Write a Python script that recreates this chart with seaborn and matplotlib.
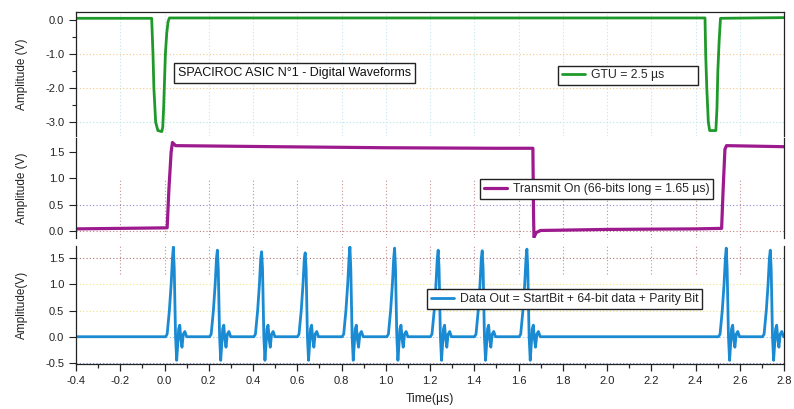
import matplotlib
matplotlib.use("Agg")
import matplotlib.pyplot as plt
import pandas as pd
import seaborn as sns
from matplotlib.ticker import MultipleLocator, FormatStrFormatter

# GTU trace (top panel), breakpoints
gtu_time = [-0.40, -0.058, -0.052, -0.048, -0.040, -0.030, -0.012, -0.008, -0.004, 0.000,
            0.004, 0.010, 0.016, 0.022, 1.00, 2.443, 2.446, 2.451, 2.458, 2.464,
            2.492, 2.497, 2.501, 2.507, 2.513, 2.80]
gtu_volt = [0.05, 0.05, -1.00, -2.00, -3.00, -3.25, -3.28, -3.15, -2.60, -1.80,
            -1.00, -0.40, -0.05, 0.06, 0.06, 0.06, -1.00, -2.00, -3.00, -3.25,
            -3.25, -2.60, -1.50, -0.60, 0.05, 0.07]

# Transmit On trace (middle panel)
tx_time = [-0.40, 0.012, 0.020, 0.030, 0.036, 0.050, 0.50, 1.00, 1.50, 1.665,
           1.668, 1.670, 1.680, 1.700, 2.00, 2.40, 2.518, 2.525, 2.533, 2.540, 2.80]
tx_volt = [0.04, 0.06, 0.80, 1.50, 1.68, 1.62, 1.60, 1.58, 1.57, 1.57,
           0.30, -0.12, -0.03, 0.01, 0.03, 0.04, 0.05, 0.80, 1.55, 1.62, 1.60]

# Data Out trace (bottom panel): pulse peak times and heights
pulse_time = [0.040, 0.239, 0.439, 0.636, 0.838, 1.040, 1.237, 1.436, 1.638, 2.539, 2.738]
pulse_peak = [1.71, 1.65, 1.62, 1.60, 1.71, 1.69, 1.65, 1.64, 1.67, 1.69, 1.65]
# pulse shape around each peak (offset in us, volts; None = the peak itself)
shape_offset = [-0.035, -0.028, -0.018, -0.010, -0.004, 0.000, 0.004, 0.007, 0.010,
                0.015, 0.019, 0.024, 0.029, 0.034, 0.039, 0.045, 0.052, 0.060]
shape_volt = [0.00, 0.05, 0.50, 1.00, 1.50, None, 1.30, 0.60, 0.00,
              -0.45, -0.20, 0.15, 0.22, -0.05, -0.20, 0.05, 0.10, 0.00]

x_ticks = [-0.4, -0.2, 0.0, 0.2, 0.4, 0.6, 0.8, 1.0, 1.2, 1.4, 1.6, 1.8, 2.0, 2.2, 2.4, 2.6, 2.8]

GREEN = "#1f9a2a"
PURPLE = "#9c1a8e"
BLUE = "#1a8ad2"
INK = "#222222"

sns.set_theme(style="white")
plt.rcParams["font.family"] = ["Liberation Sans", "DejaVu Sans"]
plt.rcParams["axes.linewidth"] = 0.9


def data_out_frame():
    t = [-0.40]
    v = [0.0]
    for tc, pk in zip(pulse_time, pulse_peak):
        for off, sv in zip(shape_offset, shape_volt):
            t.append(tc + off)
            v.append(pk if sv is None else sv)
    t.append(2.80)
    v.append(0.0)
    return pd.DataFrame({"t": t, "v": v})


def style_axis(ax, ylim):
    ax.set_xlim(-0.4, 2.8)
    ax.set_ylim(*ylim)
    for s in ax.spines.values():
        s.set_color(INK)
        s.set_linewidth(0.9)
    ax.tick_params(axis="y", direction="out", length=5, width=0.8, labelsize=8,
                   colors=INK, left=True)
    ax.tick_params(axis="y", which="minor", direction="out", length=3, width=0.8, left=True)
    ax.yaxis.set_major_formatter(FormatStrFormatter("%.1f"))
    ax.yaxis.set_label_coords(-0.068, 0.5)


def legend_box(ax, anchor):
    leg = ax.legend(loc="center left", bbox_to_anchor=anchor, frameon=True,
                    fancybox=False, framealpha=1, edgecolor=INK,
                    fontsize=8.8, handlelength=1.9, borderpad=0.3,
                    handletextpad=0.45, borderaxespad=0)
    leg.get_frame().set_linewidth(1.0)


fig = plt.figure(figsize=(7.94, 4.09), dpi=100)
left, width = 76 / 794, 708 / 794
ax1 = fig.add_axes([left, 1 - 136 / 409, width, 124 / 409])
ax2 = fig.add_axes([left, 1 - 238 / 409, width, 100 / 409])
ax3 = fig.add_axes([left, 1 - 364 / 409, width, 118 / 409])

# grid lines, drawn under the traces
dots = (0, (1, 2))
for x in x_ticks[1:-1]:
    ax1.axvline(x, color="#bfe6ee", lw=0.8, ls=dots, zorder=0)
    ax2.axvline(x, ymin=0, ymax=0.6, color="#c49090", lw=0.8, ls=dots, zorder=0)
    ax3.axvline(x, ymin=0.76, ymax=1, color="#c49090", lw=0.8, ls=dots, zorder=0)
for y, c in [(-1.0, "#f3c98a"), (-2.0, "#f3c98a"), (-3.0, "#b5e3ee")]:
    ax1.axhline(y, color=c, lw=0.8, ls=dots, zorder=0)
for y, c in [(0.5, "#8a8ad0"), (0.0, "#c08080")]:
    ax2.axhline(y, color=c, lw=0.8, ls=dots, zorder=0)
for y, c in [(1.5, "#b07070"), (1.0, "#ece38a"), (0.5, "#ece38a"), (0.0, "#9dbfe8"), (-0.5, "#8090d0")]:
    ax3.axhline(y, color=c, lw=0.8, ls=dots, zorder=0)

gtu = pd.DataFrame({"t": gtu_time, "v": gtu_volt})
tx = pd.DataFrame({"t": tx_time, "v": tx_volt})
dout = data_out_frame()

sns.lineplot(data=gtu, x="t", y="v", ax=ax1, color=GREEN, linewidth=2.0,
             estimator=None, sort=False, label="GTU = 2.5 \u00b5s         ")
sns.lineplot(data=tx, x="t", y="v", ax=ax2, color=PURPLE, linewidth=2.3,
             estimator=None, sort=False, label="Transmit On (66-bits long = 1.65 \u00b5s)")
sns.lineplot(data=dout, x="t", y="v", ax=ax3, color=BLUE, linewidth=2.0,
             estimator=None, sort=False,
             label="Data Out = StartBit + 64-bit data + Parity Bit")

style_axis(ax1, (-3.41, 0.235))
ax1.yaxis.set_major_locator(MultipleLocator(1.0))
ax1.yaxis.set_minor_locator(MultipleLocator(0.5))
style_axis(ax2, (-0.133, 1.765))
ax2.yaxis.set_major_locator(MultipleLocator(0.5))
style_axis(ax3, (-0.52, 1.73))
ax3.yaxis.set_major_locator(MultipleLocator(0.5))

for ax in (ax1, ax2):
    ax.tick_params(axis="x", bottom=False, labelbottom=False)
    ax.set_xlabel("")
ax2.spines["top"].set_visible(False)
ax3.spines["top"].set_visible(False)
ax1.spines["bottom"].set_visible(False)
ax2.spines["bottom"].set_visible(False)

ax3.set_xticks(x_ticks)
ax3.xaxis.set_minor_locator(MultipleLocator(0.1))
ax3.xaxis.set_major_formatter(FormatStrFormatter("%.1f"))
ax3.tick_params(axis="x", direction="out", length=5, width=0.9, labelsize=8,
                colors=INK, bottom=True, pad=4)
ax3.tick_params(axis="x", which="minor", direction="out", length=3, width=0.9, bottom=True)

ax1.set_ylabel("Amplitude (V)", fontsize=8.5, color=INK)
ax2.set_ylabel("Amplitude (V)", fontsize=8.5, color=INK)
ax3.set_ylabel("Amplitude(V)", fontsize=8.5, color=INK)
ax3.set_xlabel("Time(\u00b5s)", fontsize=8.8, color=INK, labelpad=5)

legend_box(ax1, (0.681, 0.49))
legend_box(ax2, (0.571, 0.49))
legend_box(ax3, (0.496, 0.55))

ax1.text(0.144, 0.508, "SPACIROC ASIC N\u00b01 - Digital Waveforms", transform=ax1.transAxes,
         fontsize=9, va="center", ha="left", color="#111111",
         bbox=dict(boxstyle="square,pad=0.3", fc="white", ec=INK, lw=1.0))

fig.savefig("out.png", dpi=100)
